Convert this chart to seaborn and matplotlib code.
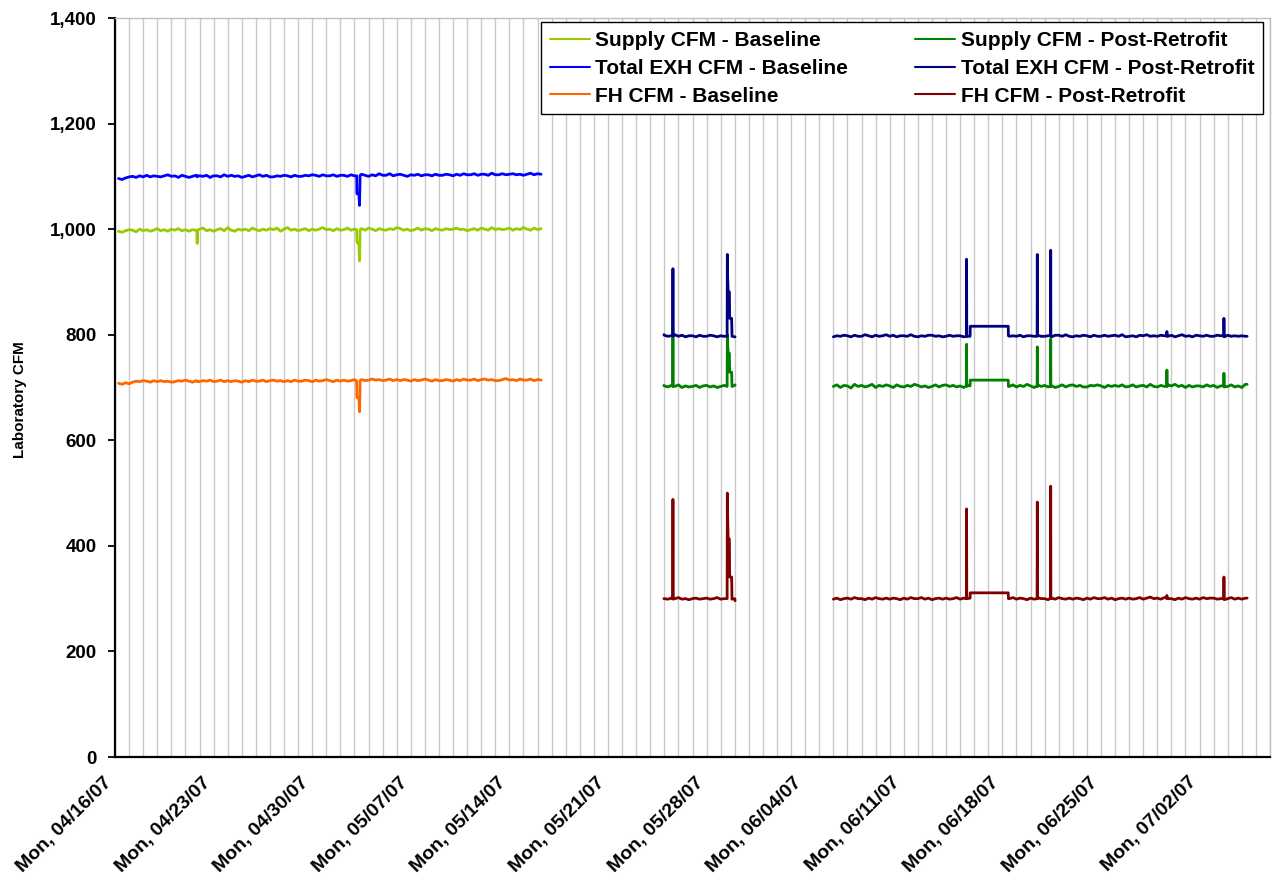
import matplotlib
matplotlib.use("Agg")
import matplotlib.dates as mdates
import matplotlib.pyplot as plt
import matplotlib.transforms as mtransforms
import pandas as pd
import seaborn as sns
from matplotlib.ticker import StrMethodFormatter

# ---------------------------------------------------------------- data
# Series names, in legend order (column 1 = baseline, column 2 = post-retrofit)
SERIES = [
    "Supply CFM - Baseline",
    "Total EXH CFM - Baseline",
    "FH CFM - Baseline",
    "Supply CFM - Post-Retrofit",
    "Total EXH CFM - Post-Retrofit",
    "FH CFM - Post-Retrofit",
]

# Baseline period: 6-hourly readings from 04/16/07 06:00
base_start = "2007-04-16 06:00"
base_exh = [
    1096, 1094, 1097, 1099, 1100, 1098, 1101, 1099, 1102, 1099, 1101, 1100,
    1099, 1101, 1103, 1100, 1101, 1098, 1102, 1100, 1098, 1100, 1102, 1101,
    1100, 1102, 1098, 1101, 1101, 1099, 1103, 1100, 1102, 1100, 1101, 1098,
    1100, 1102, 1099, 1101, 1103, 1100, 1102, 1099, 1099, 1101, 1100, 1102,
    1101, 1099, 1102, 1100, 1100, 1102, 1101, 1103, 1102, 1100, 1103, 1101,
    1101, 1103, 1100, 1102, 1102, 1100, 1103, 1101, 1067, 1104, 1102, 1100,
    1103, 1101, 1105, 1102, 1102, 1105, 1101, 1103, 1104, 1102, 1100, 1103,
    1102, 1104, 1101, 1103, 1103, 1101, 1104, 1102, 1102, 1104, 1103, 1101,
    1104, 1102, 1105, 1103, 1103, 1105, 1102, 1104, 1104, 1102, 1106, 1103,
    1103, 1105, 1103, 1104, 1105, 1103, 1104, 1102, 1104, 1106, 1103, 1105,
    1104,
]
base_supply = [
    996, 994, 997, 999, 998, 995, 1000, 997, 999, 996, 998, 1001,
    997, 999, 996, 1000, 998, 1001, 997, 999, 996, 999, 998, 1000,
    1002, 997, 999, 996, 999, 1001, 997, 1003, 998, 996, 1000, 998,
    1000, 997, 1002, 999, 997, 1000, 998, 1001, 999, 1002, 996, 1000,
    1003, 998, 1000, 997, 999, 1001, 997, 1000, 998, 1000, 1003, 999,
    1000, 997, 1001, 998, 999, 1002, 998, 1000, 973, 1001, 998, 1002,
    1000, 997, 1001, 999, 998, 1001, 999, 1003, 1001, 998, 1000, 997,
    999, 1002, 998, 1001, 1000, 997, 1001, 999, 998, 1001, 999, 1000,
    1002, 999, 1000, 997, 999, 1001, 998, 1002, 1000, 998, 1003, 999,
    1001, 999, 1000, 1002, 998, 1001, 999, 1003, 1000, 998, 1002, 999,
    1001,
]
base_fh = [
    708, 706, 709, 707, 710, 712, 711, 713, 712, 710, 713, 711,
    713, 711, 712, 710, 711, 713, 712, 714, 712, 710, 713, 711,
    713, 712, 714, 711, 712, 714, 711, 713, 711, 713, 712, 710,
    713, 711, 714, 712, 712, 714, 711, 713, 714, 712, 713, 711,
    713, 711, 714, 712, 712, 714, 713, 711, 714, 712, 713, 715,
    713, 711, 714, 712, 714, 712, 713, 715, 680, 715, 713, 714,
    716, 714, 715, 713, 714, 716, 713, 715, 713, 715, 714, 712,
    715, 713, 714, 716, 714, 712, 715, 713, 713, 715, 714, 712,
    715, 713, 716, 714, 714, 716, 713, 715, 716, 714, 715, 713,
    713, 715, 717, 714, 715, 713, 716, 714, 714, 716, 713, 715,
    714,
]
# short dips in the baseline period
base_ev_times = [
    "2007-04-21 19:40", "2007-04-21 20:00", "2007-04-21 20:20",
    "2007-05-03 03:50", "2007-05-03 04:10", "2007-05-03 07:40",
    "2007-05-03 08:40", "2007-05-03 09:40",
]
base_exh_ev = [1100, 1099, 1101, 1101, 1067, 1066, 1045, 1102]
base_supply_ev = [997, 973, 998, 999, 976, 971, 940, 999]
base_fh_ev = [712, 711, 712, 712, 681, 679, 654, 713]

# Post-retrofit, first stretch: 6-hourly readings from 05/25/07 00:00
post1_start = "2007-05-25 00:00"
post1_exh = [
    799, 797, 798, 800, 797, 799, 796, 798, 798, 796, 799, 797,
    797, 799, 798, 796, 798, 797, 905, 831, 796,
]
post1_supply = [
    703, 701, 704, 702, 705, 700, 703, 701, 702, 704, 700, 703,
    704, 701, 703, 700, 702, 704, 780, 729, 704,
]
post1_fh = [
    300, 299, 301, 300, 302, 299, 300, 298, 300, 301, 299, 300,
    301, 299, 300, 302, 299, 300, 450, 341, 300,
]
post1_ev_times = [
    "2007-05-24 23:15", "2007-05-25 14:20", "2007-05-25 14:40",
    "2007-05-25 15:00", "2007-05-29 11:00", "2007-05-29 11:20",
    "2007-05-29 12:45", "2007-05-29 14:50", "2007-05-29 15:20",
    "2007-05-29 18:40", "2007-05-29 19:20", "2007-05-30 00:30",
]
post1_exh_ev = [800, 798, 925, 797, 797, 952, 881, 881, 831, 831, 797, 796]
post1_supply_ev = [704, 702, 795, 703, 702, 800, 765, 765, 729, 729, 702, 705]
post1_fh_ev = [300, 300, 488, 299, 300, 500, 413, 413, 341, 341, 299, 296]

# Post-retrofit, second stretch: 6-hourly readings from 06/06/07 00:00
post2_start = "2007-06-06 00:00"
post2_exh = [
    796, 798, 797, 799, 798, 796, 799, 797, 797, 800, 798, 796,
    799, 797, 798, 800, 797, 799, 796, 798, 798, 797, 800, 797,
    796, 798, 797, 799, 799, 797, 798, 796, 797, 799, 797, 798,
    798, 796, 797, 816, 816, 816, 816, 816, 816, 816, 816, 816,
    816, 816, 797, 798, 797, 799, 796, 798, 798, 797, 799, 797,
    797, 798, 796, 799, 799, 797, 800, 797, 796, 798, 797, 799,
    798, 796, 799, 797, 797, 799, 797, 798, 799, 797, 800, 796,
    797, 798, 796, 799, 798, 800, 797, 798, 797, 799, 798, 797,
    799, 796, 798, 800, 797, 798, 796, 799, 798, 797, 799, 797,
    797, 799, 798, 796, 799, 797, 798, 797, 798, 797,
]
post2_supply = [
    702, 705, 700, 704, 703, 699, 706, 702, 704, 701, 703, 706,
    700, 704, 702, 705, 703, 700, 705, 702, 701, 704, 702, 706,
    704, 701, 703, 700, 702, 705, 701, 704, 705, 702, 704, 701,
    703, 700, 704, 714, 714, 714, 714, 714, 714, 714, 714, 714,
    714, 714, 702, 705, 701, 704, 702, 706, 703, 700, 705, 702,
    704, 701, 703, 700, 702, 705, 701, 704, 705, 702, 704, 701,
    701, 704, 703, 705, 703, 700, 704, 702, 704, 702, 705, 701,
    702, 705, 701, 703, 704, 701, 706, 702, 701, 704, 702, 705,
    703, 706, 702, 704, 700, 704, 701, 703, 703, 701, 705, 702,
    704, 700, 703, 701, 702, 705, 701, 703, 700, 706,
]
post2_fh = [
    299, 301, 298, 300, 301, 299, 302, 300, 300, 298, 301, 299,
    302, 300, 299, 301, 299, 301, 300, 298, 301, 299, 302, 300,
    300, 302, 299, 301, 298, 300, 301, 299, 301, 299, 300, 302,
    299, 301, 300, 311, 311, 311, 311, 311, 311, 311, 311, 311,
    311, 311, 300, 302, 299, 301, 300, 298, 301, 299, 302, 300,
    300, 298, 301, 299, 302, 300, 299, 301, 299, 301, 300, 298,
    301, 299, 302, 300, 300, 302, 299, 301, 298, 300, 301, 299,
    301, 299, 300, 302, 299, 301, 303, 300, 301, 299, 302, 300,
    300, 298, 301, 299, 302, 300, 299, 301, 299, 302, 300, 301,
    301, 299, 300, 298, 300, 302, 299, 301, 299, 301,
]
post2_ev_times = [
    "2007-06-15 10:40", "2007-06-15 11:00", "2007-06-15 11:20",
    "2007-06-15 17:00", "2007-06-15 17:15", "2007-06-18 10:00",
    "2007-06-18 10:15", "2007-06-20 11:10", "2007-06-20 11:30",
    "2007-06-20 11:50", "2007-06-21 10:00", "2007-06-21 10:20",
    "2007-06-21 10:40", "2007-06-29 16:00", "2007-06-29 16:20",
    "2007-06-29 16:40", "2007-07-03 17:10", "2007-07-03 17:30",
    "2007-07-03 17:50", "2007-07-05 09:00",
]
post2_exh_ev = [797, 943, 798, 797, 816, 816, 798, 797, 952, 798,
                798, 960, 797, 798, 806, 797, 798, 831, 797, 797]
post2_supply_ev = [703, 782, 702, 703, 714, 714, 702, 703, 777, 702,
                   703, 792, 702, 703, 733, 702, 703, 727, 702, 706]
post2_fh_ev = [300, 470, 300, 301, 311, 311, 300, 300, 483, 300,
               301, 513, 300, 301, 306, 300, 300, 341, 300, 301]

x_start, x_end = "2007-04-16", "2007-07-07"

COLORS = {
    "Supply CFM - Baseline": "#99cc00",
    "Total EXH CFM - Baseline": "#0000ff",
    "FH CFM - Baseline": "#ff6600",
    "Supply CFM - Post-Retrofit": "#008000",
    "Total EXH CFM - Post-Retrofit": "#000080",
    "FH CFM - Post-Retrofit": "#800000",
}


def segment(series, seg, start, values, ev_times, ev_values):
    times = pd.date_range(start, periods=len(values), freq="6h")
    times = times.append(pd.DatetimeIndex(pd.to_datetime(ev_times)))
    return pd.DataFrame({
        "time": times,
        "cfm": list(values) + list(ev_values),
        "series": series,
        "segment": seg,
    })


df = pd.concat([
    segment(SERIES[0], "base", base_start, base_supply, base_ev_times, base_supply_ev),
    segment(SERIES[1], "base", base_start, base_exh, base_ev_times, base_exh_ev),
    segment(SERIES[2], "base", base_start, base_fh, base_ev_times, base_fh_ev),
    segment(SERIES[3], "post1", post1_start, post1_supply, post1_ev_times, post1_supply_ev),
    segment(SERIES[4], "post1", post1_start, post1_exh, post1_ev_times, post1_exh_ev),
    segment(SERIES[5], "post1", post1_start, post1_fh, post1_ev_times, post1_fh_ev),
    segment(SERIES[3], "post2", post2_start, post2_supply, post2_ev_times, post2_supply_ev),
    segment(SERIES[4], "post2", post2_start, post2_exh, post2_ev_times, post2_exh_ev),
    segment(SERIES[5], "post2", post2_start, post2_fh, post2_ev_times, post2_fh_ev),
], ignore_index=True)

# ---------------------------------------------------------------- plot
sns.set_theme(style="white")
plt.rcParams["font.family"] = ["Liberation Sans", "DejaVu Sans"]
plt.rcParams["font.weight"] = "bold"
plt.rcParams["text.color"] = "black"
plt.rcParams["axes.labelcolor"] = "black"

fig = plt.figure(figsize=(12.76, 8.82), dpi=100)
ax = fig.add_axes([115 / 1276, 1 - 757 / 882, 1155 / 1276, 739 / 882])

sns.lineplot(
    data=df, x="time", y="cfm", hue="series", hue_order=SERIES,
    palette=COLORS, units="segment", estimator=None, linewidth=2.0, ax=ax,
)

ax.set_xlim(pd.Timestamp(x_start), pd.Timestamp(x_end))
ax.set_ylim(0, 1400)
ax.set_yticks(range(0, 1401, 200))
ax.yaxis.set_major_formatter(StrMethodFormatter("{x:,.0f}"))

ax.xaxis.set_major_locator(mdates.WeekdayLocator(byweekday=mdates.MO))
ax.xaxis.set_minor_locator(mdates.DayLocator())
ax.xaxis.set_major_formatter(mdates.DateFormatter("%a, %m/%d/%y"))
ax.grid(True, which="both", axis="x", color="#c8c8c8", linewidth=1.0)
ax.grid(False, axis="y")
ax.set_axisbelow(True)

ax.tick_params(axis="x", which="major", direction="inout", length=11, width=1.3,
               labelsize=14, pad=3, colors="black")
ax.tick_params(axis="x", which="minor", direction="inout", length=6, width=1,
               colors="black")
ax.tick_params(axis="y", which="major", direction="out", length=5, width=1.3,
               labelsize=13.5, pad=8, left=True, colors="black")
shift = mtransforms.ScaledTranslation(-8.6 / 72, -3.6 / 72, fig.dpi_scale_trans)
for lab in ax.get_xticklabels():
    lab.set_rotation(45)
    lab.set_ha("right")
    lab.set_rotation_mode("anchor")
    lab.set_fontweight("bold")
    lab.set_transform(lab.get_transform() + shift)
plt.setp(ax.get_yticklabels(), fontweight="bold")

ax.set_xlabel("")
ax.set_ylabel("Laboratory CFM", fontsize=11, fontweight="bold")
ax.yaxis.set_label_coords(-0.076, 0.484)

for side in ("left", "bottom"):
    ax.spines[side].set_color("black")
    ax.spines[side].set_linewidth(1.6)
for side in ("top", "right"):
    ax.spines[side].set_color("#bfbfbf")
    ax.spines[side].set_linewidth(1.0)

old = ax.get_legend()
handles = old.legend_handles
labels = [t.get_text() for t in old.get_texts()]
for h in handles:
    h.set_linewidth(1.5)
leg = ax.legend(
    handles, labels, ncol=2, loc="upper right", bbox_to_anchor=(0.994, 0.994),
    frameon=True, fancybox=False, framealpha=1, edgecolor="black",
    prop={"weight": "bold", "size": 15}, handlelength=1.92, handletextpad=0.25,
    columnspacing=3.25, labelspacing=0.42, borderpad=0.42, borderaxespad=0,
)
leg.get_frame().set_linewidth(1.0)

fig.savefig("out.png", dpi=100)
plt.close(fig)
